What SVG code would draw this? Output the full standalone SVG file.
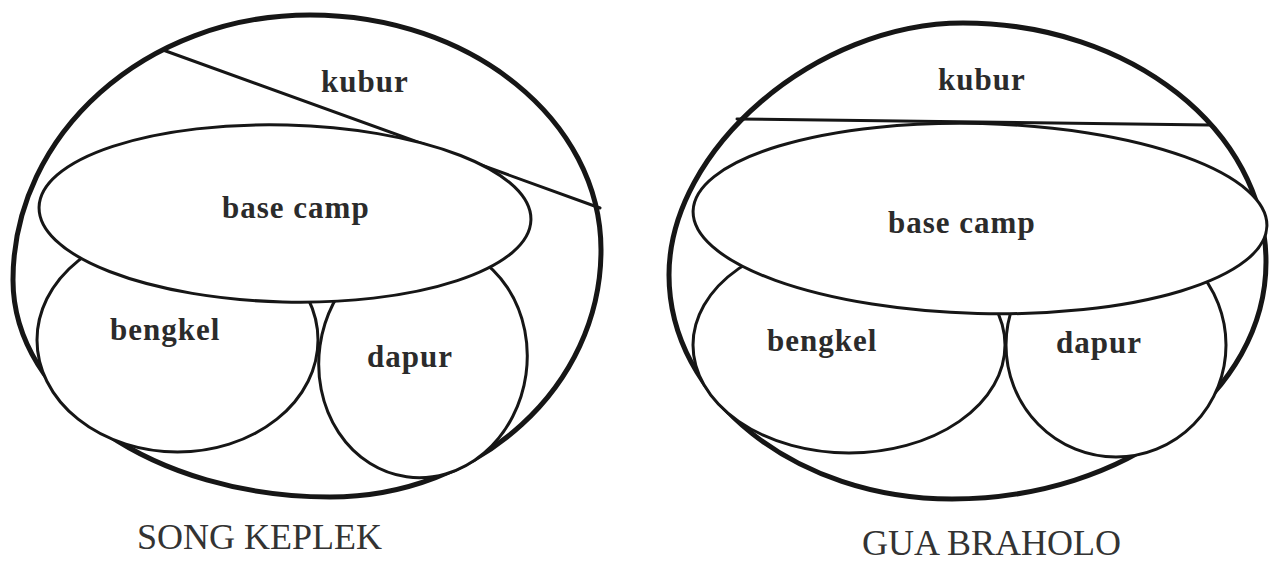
<svg xmlns="http://www.w3.org/2000/svg" width="1269" height="561" viewBox="0 0 1269 561">
  <style>
    .outer { fill: #ffffff; stroke: #161616; stroke-width: 5; }
    .area { fill: #ffffff; stroke: #161616; stroke-width: 3; }
    .divider { stroke: #161616; stroke-width: 3; fill: none; stroke-linecap: round; }
    .lbl { font-family: "Liberation Serif", "Times New Roman", serif; font-weight: bold; font-size: 31px; fill: #2b2b2b; letter-spacing: 1px; }
    .cap { font-family: "Liberation Serif", "Times New Roman", serif; font-size: 36px; fill: #333333; }
  </style>
  <rect x="0" y="0" width="1269" height="561" fill="#ffffff"/>

  <!-- SONG KEPLEK -->
  <g id="song-keplek">
    <g id="sk-outer">
      <path class="outer" d="M 310 15 C 470.7 15 601 120.2 601 250 C 601 386.4 479.7 497 330 497 C 154.9 497 13 399.8 13 280 C 13 133.6 146 15 310 15 Z"/>
    </g>
    <g id="sk-dividers">
      <line class="divider" x1="163" y1="50" x2="600" y2="208"/>
    </g>
    <g id="sk-kubur">
      <text class="lbl" x="321" y="92">kubur</text>
    </g>
    <g id="sk-bengkel">
      <ellipse class="area" cx="177.5" cy="340" rx="140.5" ry="112"/>
      <text class="lbl" x="110" y="340">bengkel</text>
    </g>
    <g id="sk-dapur">
      <ellipse class="area" cx="423" cy="360" rx="104" ry="118" transform="rotate(8 423 360)"/>
      <text class="lbl" x="367" y="367">dapur</text>
    </g>
    <g id="sk-basecamp">
      <ellipse class="area" cx="285" cy="213.5" rx="246" ry="88.5" transform="rotate(1.5 285 213.5)"/>
      <text class="lbl" x="222" y="218">base camp</text>
    </g>
    <text class="cap" x="137" y="549">SONG KEPLEK</text>
  </g>

  <!-- GUA BRAHOLO -->
  <g id="gua-braholo">
    <g id="gb-outer">
      <path class="outer" d="M 963 23 C 1130.3 23 1266 130 1266 262 C 1266 392.9 1125.4 499 952 499 C 795.7 499 669 398.7 669 275 C 669 149 816 23 963 23 Z"/>
    </g>
    <g id="gb-dividers">
      <line class="divider" x1="737" y1="119" x2="1209" y2="125"/>
    </g>
    <g id="gb-kubur">
      <text class="lbl" x="938" y="90">kubur</text>
    </g>
    <g id="gb-bengkel">
      <ellipse class="area" cx="849" cy="345" rx="156" ry="108"/>
      <text class="lbl" x="767" y="351">bengkel</text>
    </g>
    <g id="gb-dapur">
      <ellipse class="area" cx="1116" cy="345" rx="110" ry="112"/>
      <text class="lbl" x="1056" y="353">dapur</text>
    </g>
    <g id="gb-basecamp">
      <ellipse class="area" cx="980" cy="218.5" rx="287" ry="95" transform="rotate(1.5 980 218.5)"/>
      <text class="lbl" x="888" y="233">base camp</text>
    </g>
    <text class="cap" x="862" y="555">GUA BRAHOLO</text>
  </g>
</svg>
